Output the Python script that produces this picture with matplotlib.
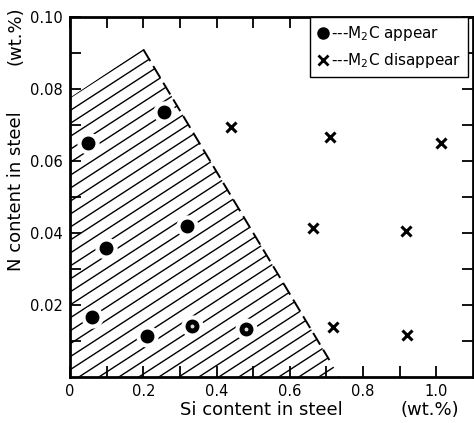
import numpy as np
import matplotlib.pyplot as plt
from matplotlib.patches import Polygon
from matplotlib.lines import Line2D

# M2C appear (filled circles)
appear_si = [0.05, 0.256, 0.098, 0.32, 0.06, 0.21, 0.332, 0.48]
appear_n = [0.065, 0.0736, 0.0358, 0.042, 0.0167, 0.0114, 0.0142, 0.0133]
# two of the circles have a small light centre
hollow_si = [0.332, 0.48]
hollow_n = [0.0142, 0.0133]
# M2C disappear (crosses)
gone_si = [0.439, 0.711, 0.662, 0.717, 1.013, 0.916, 0.92]
gone_n = [0.0694, 0.0667, 0.0414, 0.0139, 0.065, 0.0406, 0.0117]

# hatched region and its boundary
region_si = [0, 0, 0.2, 0.736]
region_n = [0, 0.0776, 0.0912, 0]
edge_si = [0.2, 0.708]
edge_n = [0.091, 0.0047]

xticks = [0, 0.2, 0.4, 0.6, 0.8, 1.0]
xlabels = ['0', '0.2', '0.4', '0.6', '0.8', '1.0']
yticks = [0.02, 0.04, 0.06, 0.08, 0.10]
ylabels = ['0.02', '0.04', '0.06', '0.08', '0.10']

fig = plt.figure(figsize=(4.74, 4.23), dpi=100)
ax = fig.add_axes([70/474, 1-377/423, (473-70)/474, (377-17)/423])
ax.set_xlim(0, 1.1)
ax.set_ylim(0, 0.10)

poly = Polygon(np.column_stack([region_si, region_n]), closed=True,
               facecolor='none', edgecolor='none')
ax.add_patch(poly)
slope = 0.066
for b in np.arange(0.0776, -0.06, -0.0036):
    ln, = ax.plot([0, 0.8], [b, b + slope*0.8], color='k', lw=1.0)
    ln.set_clip_path(poly)

ax.plot(edge_si, edge_n, color='k', lw=1.4, linestyle=(0, (7, 3)))

# white halo so hatch lines break around the circles
ax.plot(appear_si, appear_n, 'o', color='white', ms=15, zorder=3)
ax.plot(appear_si, appear_n, 'o', color='k', ms=9, zorder=4)
ax.plot(hollow_si, hollow_n, 'o', color='#dddddd', ms=1.8, zorder=5)
ax.plot(gone_si, gone_n, 'x', color='k', ms=7, mew=2.2, zorder=4)

ax.set_xticks(xticks)
ax.set_xticklabels(xlabels)
ax.set_xticks(np.arange(0.1, 1.1, 0.2), minor=True)
ax.set_yticks(yticks)
ax.set_yticklabels(ylabels)
ax.set_yticks(np.arange(0.01, 0.1, 0.02), minor=True)
ax.tick_params(which='both', direction='in', length=8, width=1.3,
               top=True, right=True, labelsize=10.5, pad=5)
for s in ax.spines.values():
    s.set_linewidth(2)

hs = [Line2D([], [], marker='o', ls='none', color='k', ms=8),
      Line2D([], [], marker='x', ls='none', color='k', ms=7, mew=2)]
leg = ax.legend(hs, ['---M$_2$C appear', '---M$_2$C disappear'],
                loc='upper left', bbox_to_anchor=((310-70)/403, 1.0),
                borderaxespad=0, handlelength=0.8, handletextpad=0.1,
                fancybox=False, fontsize=11, framealpha=1,
                borderpad=0.45, labelspacing=0.55)
leg.get_frame().set_edgecolor('k')
leg.get_frame().set_linewidth(1)

fig.text(261/474, 1-410/423, 'Si content in steel', ha='center', va='center', fontsize=13)
fig.text(430/474, 1-410/423, '(wt.%)', ha='center', va='center', fontsize=13)
fig.text(16/474, 1-191/423, 'N content in steel', ha='center', va='center', fontsize=13, rotation=90)
fig.text(16/474, 1-36/423, '(wt.%)', ha='center', va='center', fontsize=13, rotation=90)

plt.savefig('out.png', dpi=100)
